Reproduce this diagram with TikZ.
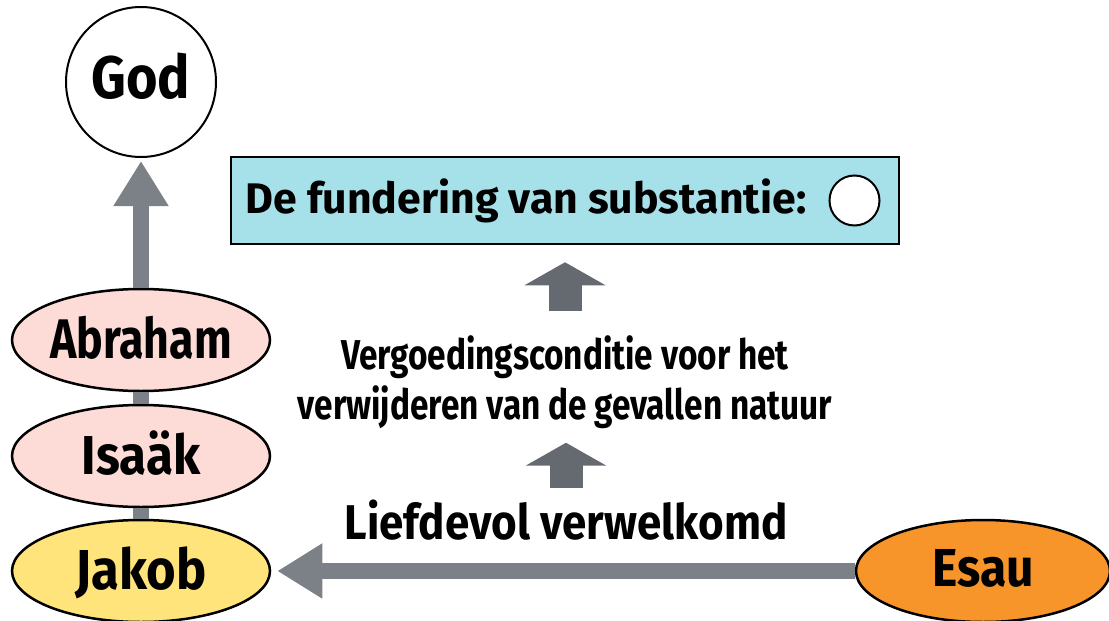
\documentclass[tikz,border=0pt]{standalone}
\usepackage{fontspec}
\setmainfont{Fira Sans}[FakeStretch=0.9]
\newfontfamily\smal{Fira Sans}[FakeStretch=0.8]
\newfontfamily\breed{Fira Sans}
\usepackage{tikz}
\usetikzlibrary{positioning, arrows.meta, shapes.geometric}

\definecolor{grijs}{HTML}{7C8187}
\definecolor{donkergrijs}{HTML}{656A71}
\definecolor{roze}{HTML}{FDDBD6}
\definecolor{geel}{HTML}{FFE47C}
\definecolor{oranje}{HTML}{F7952A}
\definecolor{lichtblauw}{HTML}{A6E0E8}

\begin{document}
\begin{tikzpicture}[x=1pt, y=-1pt,
    persoon/.style={draw, ellipse, line width=2.5pt, minimum width=258pt,
        minimum height=102pt, inner sep=0pt, text depth=6pt},
    grijslijn/.style={draw=grijs, line width=16pt},
    grijspijl/.style={grijslijn, -{Triangle[width=52pt, length=45pt]}},
    blokpijl/.style={draw=donkergrijs, line width=33pt,
        -{Triangle[width=80pt, length=23pt]}},
    tekst/.style={inner sep=0pt}]
    % --- kader van de tekening ---
    \useasboundingbox (0,0) rectangle (1109,621);

    % God bovenaan
    \node[draw, circle, line width=2pt, minimum size=150pt, inner sep=0pt,
        text depth=12pt, font=\fontsize{60}{62}\selectfont\bfseries] (god) at (141,82) {God};

    % De drie voorouders en Esau
    \node[persoon, fill=roze, font=\fontsize{55.8}{60}\smal\bfseries] (abraham) at (141,340) {Abraham};
    \node[persoon, fill=roze, font=\fontsize{54.8}{60}\selectfont\bfseries] (isaak) at (141,456) {Isaäk};
    \node[persoon, fill=geel, font=\fontsize{56.3}{60}\selectfont\bfseries] (jakob) at (141,571) {Jakob};
    \node[persoon, fill=oranje, minimum width=254pt,
        font=\fontsize{53.4}{60}\selectfont\bfseries] (esau) at (983,571) {Esau};

    % Kader met de fundering van substantie
    \node[draw, fill=lichtblauw, line width=2.5pt, minimum width=668pt,
        minimum height=87pt] (fundering) at (565,200.5) {};
    \node[tekst, font=\fontsize{42.8}{50}\breed\bfseries,
        right=16pt of fundering.west] (funderingtekst) {De fundering van substantie:};
    \node[draw, circle, fill=white, line width=2pt, minimum size=50pt,
        inner sep=0pt, right=22pt of funderingtekst] (leeg) {};

    % Teksten in het midden
    \node[tekst, font=\fontsize{41.7}{50}\smal\bfseries, align=center]
        (voorwaarde) at (565,382) {Vergoedingsconditie voor het\\verwijderen van de gevallen natuur};
    \node[tekst, font=\fontsize{48.8}{50}\selectfont\bfseries] (liefde) at (566,520) {Liefdevol verwelkomd};

    % Verbindingen tussen de personen
    \draw[grijspijl, shorten >=3pt] (abraham) -- (god);
    \draw[grijslijn] (abraham) -- (isaak);
    \draw[grijslijn] (isaak) -- (jakob);
    \draw[grijspijl, shorten >=6pt] (esau) -- (jakob);

    % Blokpijlen naar boven
    \draw[blokpijl, shorten <=24pt, shorten >=17pt] (voorwaarde.north -| fundering.south) -- (fundering.south);
    \draw[blokpijl, shorten <=12pt, shorten >=14pt] (liefde.north) -- (voorwaarde.south -| liefde.north);
\end{tikzpicture}
\end{document}
